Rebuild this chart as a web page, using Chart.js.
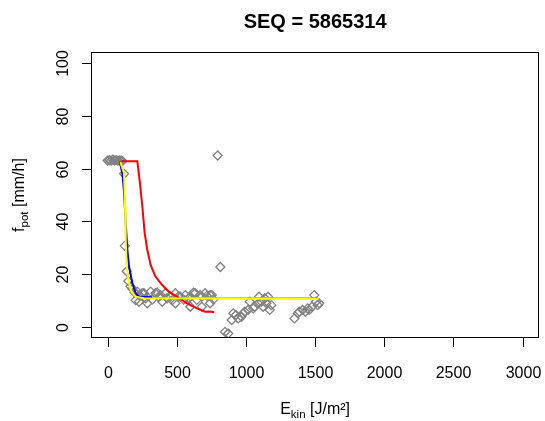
<!DOCTYPE html>
<html>
<head>
<meta charset="utf-8">
<script src="https://cdn.jsdelivr.net/npm/chart.js@4/dist/chart.umd.min.js"></script>
<style>
  html, body { margin: 0; padding: 0; background: #fff; }
  #wrap { width: 545px; height: 421px; }
</style>
</head>
<body>
<div id="wrap"><canvas id="c" width="545" height="421"></canvas></div>
<script>
// ── data ───────────────────────────────────────────
const TITLE = "SEQ = 5865314";
const X_TICKS = [0, 500, 1000, 1500, 2000, 2500, 3000];
const Y_TICKS = [0, 20, 40, 60, 80, 100];

// measured points (open diamonds)
const PTS_X = [0, 12, 25, 38, 50, 62, 75, 88, 100, 108,
  119, 124, 138, 150, 165, 180, 195, 203, 215, 227, 227, 251, 263, 275, 287,
  311, 323, 346, 359, 370, 382, 395, 418, 430, 454, 466, 490, 490, 514, 526,
  550, 562, 586, 598, 598, 621, 633, 645, 669, 681, 681, 705, 717, 741, 741,
  753, 765, 796, 815,
  849, 872, 897, 908, 928, 944, 968, 980, 992, 1016, 1028, 1052, 1064, 1088,
  1095, 1112, 1124, 1136, 1148, 1160, 1172, 1184,
  1351, 1375, 1387, 1410, 1430, 1446, 1458, 1478, 1494, 1506, 1518, 1530];
const PTS_Y = [63, 63.2, 63, 63.3, 63, 63.2, 63, 63.1, 63, 62.8,
  58, 30.8, 21.2, 17.5, 15.5, 14.5, 13.2, 10.3, 13.5, 12.2, 9.7, 12.9, 12.9, 11, 9.1,
  13.5, 10.5, 12.9, 13.1, 11.5, 12.2, 9.7, 12.9, 11, 11.6, 10.2, 12.9, 9.1, 11.8, 11.6,
  10.5, 12.2, 11, 11.6, 7.8, 13.1, 12.9, 10.4, 12.2, 11.6, 7.8, 12.9, 11.9, 12.2, 9.1,
  12.2, 10.6, 64.9, 22.8,
  -1.7, -2.3, 2.8, 5.3, 4.7, 3.4, 4.0, 5.3, 5.9, 6.6, 9.7, 7.2, 7.8, 9.1,
  11.6, 9.7, 7.8, 11, 9.1, 11.6, 6.6, 8.4,
  3.4, 5.3, 5.9, 6.6, 5.9, 7.2, 6.6, 7.8, 12.2, 9.7, 8.4, 9.1];

// fitted curves
const RED_X = [95, 215, 234, 251, 268, 287, 311, 346, 395, 442, 502, 574, 646, 705, 740, 770];
const RED_Y = [62.7, 62.7, 54.5, 45.7, 35.6, 29.3, 23.6, 19.2, 16.0, 13.5, 11.6, 9.1, 7.2, 5.9, 6.0, 5.7];
const BLUE_X = [88, 108, 119, 131, 143, 155, 179, 203, 227, 323];
const BLUE_Y = [62.6, 57.7, 50.8, 39.4, 29.3, 23, 16.7, 12.9, 11.6, 11.4];
const YELLOW_X = [92, 119, 126, 131, 138, 155, 172, 203, 263, 1525];
const YELLOW_Y = [62.4, 58.3, 45.7, 33, 23, 16.7, 13.5, 11.6, 11, 10.7];
const GRAY_X = [230, 1525];
const GRAY_Y = [11.2, 11.2];

const FONT = "'Liberation Sans', Arial, sans-serif";

const xy = (xs, ys) => xs.map((x, i) => ({ x, y: ys[i] }));

function lineSet(xs, ys, color, width, order) {
  return {
    data: xy(xs, ys),
    showLine: true,
    borderColor: color,
    borderWidth: width,
    pointRadius: 0,
    fill: false,
    tension: 0,
    order,
  };
}

// ── R-style frame, ticks and labels ───────────────
const rFrame = {
  id: "rFrame",
  afterDraw(chart) {
    const { ctx, chartArea: a, scales } = chart;
    const sx = scales.x, sy = scales.y;
    ctx.save();
    ctx.strokeStyle = "#000";
    ctx.fillStyle = "#000";
    ctx.lineWidth = 1;

    // box
    ctx.strokeRect(Math.round(a.left) + 0.5, Math.round(a.top) + 0.5,
      Math.round(a.right - a.left) - 1, Math.round(a.bottom - a.top) - 1);

    // x axis
    ctx.font = "16px " + FONT;
    ctx.textAlign = "center";
    ctx.textBaseline = "alphabetic";
    X_TICKS.forEach(v => {
      const px = Math.round(sx.getPixelForValue(v)) + 0.5;
      ctx.beginPath();
      ctx.moveTo(px, a.bottom);
      ctx.lineTo(px, a.bottom + 9);
      ctx.stroke();
      ctx.fillText(String(v), px, 378);
    });

    // y axis
    Y_TICKS.forEach(v => {
      const py = Math.round(sy.getPixelForValue(v)) + 0.5;
      ctx.beginPath();
      ctx.moveTo(a.left, py);
      ctx.lineTo(a.left - 9, py);
      ctx.stroke();
      ctx.save();
      ctx.translate(68, py);
      ctx.rotate(-Math.PI / 2);
      ctx.fillText(String(v), 0, 0);
      ctx.restore();
    });

    // title
    ctx.font = "bold 20px " + FONT;
    ctx.fillText(TITLE, (a.left + a.right) / 2, 28);

    // axis titles with subscripts
    const drawSub = (base, sub, rest, cx, cy, rot) => {
      ctx.save();
      ctx.translate(cx, cy);
      if (rot) ctx.rotate(-Math.PI / 2);
      ctx.textAlign = "left";
      const big = "16px " + FONT, small = "11.5px " + FONT;
      ctx.font = big;
      const w1 = ctx.measureText(base).width;
      const w3 = ctx.measureText(rest).width;
      ctx.font = small;
      const w2 = ctx.measureText(sub).width;
      let x = -(w1 + w2 + w3) / 2;
      ctx.font = big;
      ctx.fillText(base, x, 0);
      x += w1;
      ctx.font = small;
      ctx.fillText(sub, x, 4);
      x += w2;
      ctx.font = big;
      ctx.fillText(rest, x, 0);
      ctx.restore();
    };
    drawSub("E", "kin", " [J/m²]", (a.left + a.right) / 2, 414, false);
    drawSub("f", "pot", " [mm/h]", 24, (a.top + a.bottom) / 2, true);

    ctx.restore();
  },
};

new Chart(document.getElementById("c"), {
  type: "scatter",
  data: {
    datasets: [
      lineSet(YELLOW_X, YELLOW_Y, "#ffff00", 2, 0),
      lineSet(BLUE_X, BLUE_Y, "#0000ff", 2, 1),
      lineSet(RED_X, RED_Y, "#ff0000", 2, 2),
      lineSet(GRAY_X, GRAY_Y, "#a0a0a0", 1, 3),
      {
        data: xy(PTS_X, PTS_Y),
        pointStyle: "rectRot",
        pointRadius: 4.5,
        pointBorderWidth: 1.3,
        pointBorderColor: "#808080",
        pointBackgroundColor: "rgba(0,0,0,0)",
        showLine: false,
        order: 4,
      },
    ],
  },
  options: {
    responsive: false,
    animation: false,
    layout: { padding: { left: 91, top: 52, right: 4, bottom: 83 } },
    plugins: { legend: { display: false }, tooltip: { enabled: false }, title: { display: false } },
    scales: {
      x: { type: "linear", display: false, min: -120, max: 3120 },
      y: { type: "linear", display: false, min: -4, max: 104 },
    },
  },
  plugins: [rFrame],
});
</script>
</body>
</html>
